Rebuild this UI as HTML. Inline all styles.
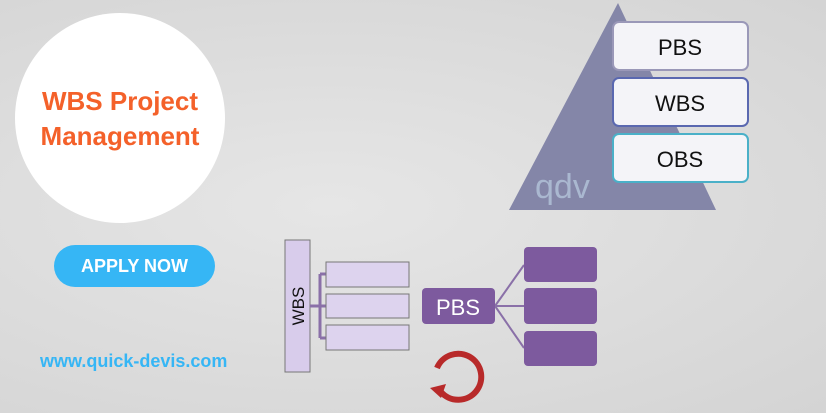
<!DOCTYPE html>
<html><head><style>
body{margin:0;width:826px;height:413px;overflow:hidden;background:#dedede;font-family:"Liberation Sans",sans-serif;position:relative}
.a{position:absolute}
</style></head><body>
<div class="a" style="left:0;top:0;width:826px;height:413px;background:radial-gradient(ellipse at 40% 50%,#e6e6e6,#d4d4d4)"></div>
<div class="a" style="left:15px;top:13px;width:210px;height:210px;border-radius:50%;background:#fff"></div>
<div class="a" style="left:15px;top:84px;width:210px;text-align:center;color:#f4612a;font-weight:bold;font-size:26px;line-height:35px">WBS Project<br>Management</div>
<div class="a" style="left:54px;top:245px;width:161px;height:42px;border-radius:21px;background:#36b6f5;color:#fff;font-weight:bold;font-size:18px;line-height:42px;text-align:center">APPLY NOW</div>
<div class="a" style="left:40px;top:351px;color:#36b6f5;font-weight:bold;font-size:18px">www.quick-devis.com</div>
<svg class="a" style="left:0;top:0" width="826" height="413">
<polygon points="618,3 509,210 716,210" fill="#8486a8"/>
<text x="535" y="198" font-size="34" fill="#aab8d0" font-family="Liberation Sans">qdv</text>
<g font-size="22" text-anchor="middle" fill="#111">
<rect x="613" y="22" width="135" height="48" rx="6" fill="#f4f4f8" stroke="#9a98b8" stroke-width="2"/><text x="680" y="55">PBS</text>
<rect x="613" y="78" width="135" height="48" rx="6" fill="#f4f4f8" stroke="#5a68b0" stroke-width="2"/><text x="680" y="111">WBS</text>
<rect x="613" y="134" width="135" height="48" rx="6" fill="#f4f4f8" stroke="#4ab0c8" stroke-width="2"/><text x="680" y="167">OBS</text>
</g>
<rect x="285" y="240" width="25" height="132" fill="#d8cceb" stroke="#777" stroke-width="1"/>
<text transform="translate(304,306) rotate(-90)" font-size="17" text-anchor="middle" fill="#111">WBS</text>
<path d="M310,306 H320 M320,274 V338 M320,274 H326 M320,306 H326 M320,338 H326" stroke="#8a70a8" stroke-width="3" fill="none"/>
<g fill="#ddd3ee" stroke="#777"><rect x="326" y="262" width="83" height="25"/><rect x="326" y="294" width="83" height="24"/><rect x="326" y="325" width="83" height="25"/></g>
<path d="M495,306 L524,265 M495,306 H524 M495,306 L524,348" stroke="#8a70a8" stroke-width="2"/>
<rect x="422" y="288" width="73" height="36" rx="4" fill="#7d5a9e"/>
<text x="458" y="315" font-size="22" fill="#fff" text-anchor="middle">PBS</text>
<g fill="#7d5a9e"><rect x="524" y="247" width="73" height="35" rx="4"/><rect x="524" y="288" width="73" height="36" rx="4"/><rect x="524" y="331" width="73" height="35" rx="4"/></g>
<path d="M441,392 A23,23 0 1 0 437,368" stroke="#b82a2a" stroke-width="6" fill="none"/>
<polygon points="430,388 446,384 441,398" fill="#b82a2a"/>
</svg>
</body></html>
